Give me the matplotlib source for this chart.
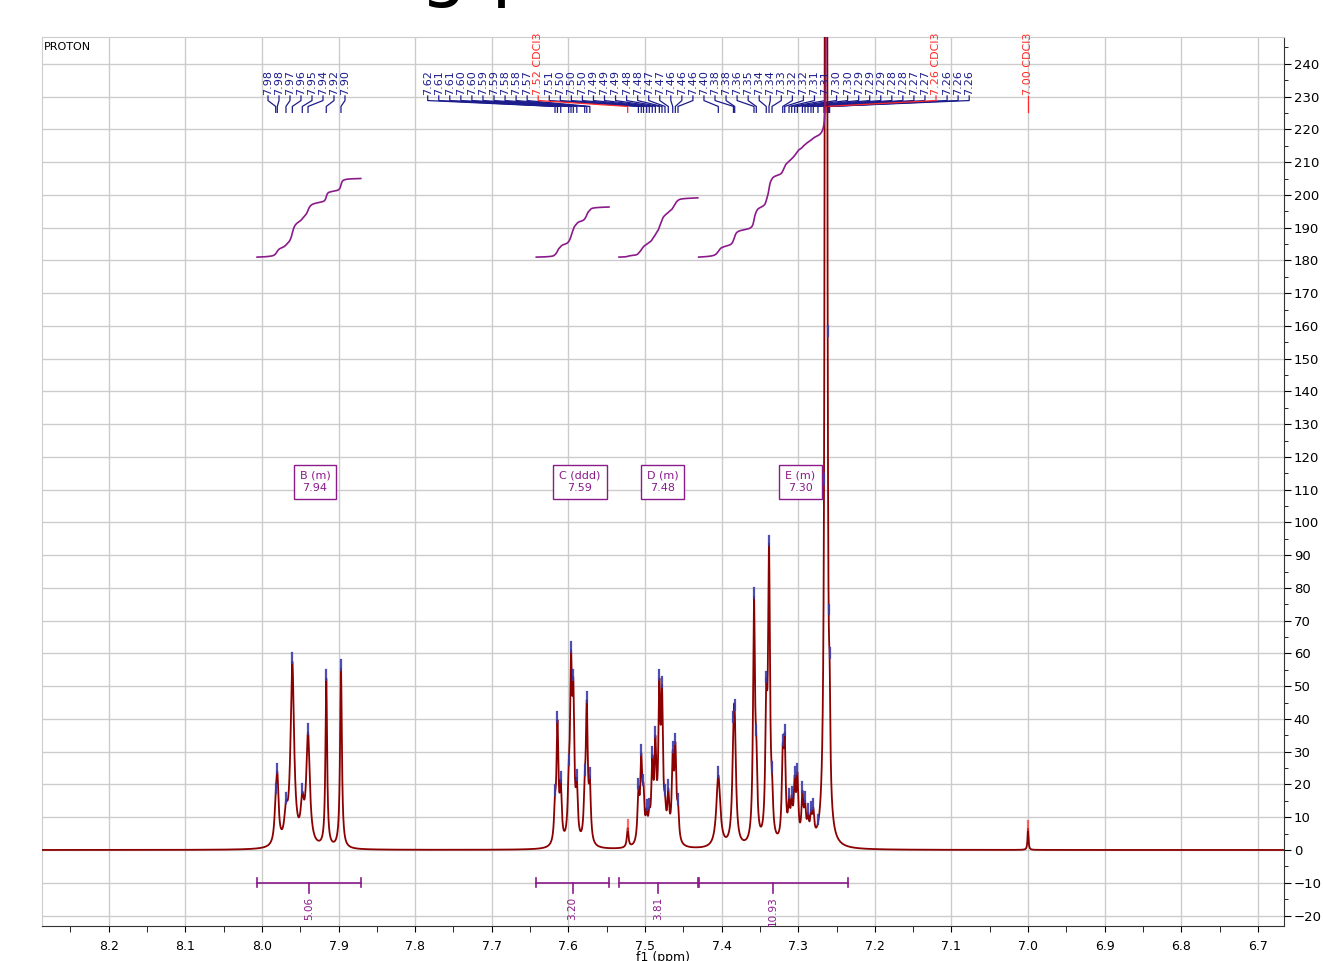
import numpy as np
import matplotlib
matplotlib.use("Agg")
import matplotlib.pyplot as plt
from matplotlib.ticker import MultipleLocator

# Picked peaks: position (ppm), curve height, line width (ppm)
peaks_b = [7.9821, 7.9800, 7.9687, 7.9604, 7.9474, 7.9399, 7.9161, 7.8969]
heights_b = [17.8, 23.9, 15.0, 57.5, 17.8, 36.0, 52.4, 55.4]
widths_b = [0.004, 0.004, 0.005, 0.0055, 0.005, 0.0055, 0.0026, 0.0028]

peaks_c = [7.6175, 7.6143, 7.6100, 7.5996, 7.5966, 7.5936, 7.5890, 7.5787, 7.5760, 7.5720]
heights_c = [17.3, 39.7, 21.4, 26.5, 61.0, 52.5, 22.0, 23.5, 45.8, 22.4]
widths_c = [0.003] * 10

peaks_d = [7.5086, 7.5049, 7.5020, 7.4978, 7.4944, 7.4905, 7.4865, 7.4813, 7.4778,
           7.4739, 7.4696, 7.4638, 7.4604, 7.4569]
heights_d = [19.3, 29.5, 20.4, 12.8, 13.2, 29.0, 35.0, 52.4, 50.4, 17.3, 18.8, 30.5, 33.0, 14.7]
widths_d = [0.003] * 14

peaks_e = [7.4043, 7.3845, 7.3829, 7.3577, 7.3547, 7.3417, 7.3381, 7.3342, 7.3202, 7.3176,
           7.3120, 7.3085, 7.3046, 7.3011, 7.2945, 7.2911, 7.2872, 7.2833, 7.2803, 7.2742,
           7.2663, 7.2615, 7.2602, 7.2590]
heights_e = [22.9, 39.7, 43.3, 77.4, 35.6, 51.9, 93.6, 24.4, 32.6, 35.6,
             16.3, 16.8, 22.9, 23.9, 18.3, 15.3, 11.7, 12.7, 13.7, 10.2,
             48.9, 101.8, 91.6, 60.0]
widths_e = [0.006, 0.004, 0.004, 0.003, 0.003, 0.003, 0.003, 0.003, 0.003, 0.003,
            0.003, 0.003, 0.003, 0.003, 0.003, 0.003, 0.003, 0.003, 0.003, 0.003,
            0.002, 0.002, 0.002, 0.002]

solvent_ppm = [7.5226, 7.2637, 7.0000]
solvent_heights = [6.7, 4000.0, 6.5]
solvent_widths = [0.0025, 0.00088, 0.0015]

# multiplets: name, shift, integration range, integral value
mult_names = ["B (m)", "C (ddd)", "D (m)", "E (m)"]
mult_shifts = ["7.94", "7.59", "7.48", "7.30"]
mult_box_ppm = [7.9308, 7.5849, 7.4772, 7.2970]
int_from = [8.0065, 7.642, 7.534, 7.430]
int_to = [7.871, 7.547, 7.431, 7.235]
int_values = ["5.06", "3.20", "3.81", "10.93"]
int_base = 181.0
# rise of each integral curve (E taken with the scale of B)
int_rise = [24.0, 15.3, 18.1, None]

NAVY = "#1c1c8c"
RED = "#ff2a2a"
PURPLE = "#8b1a8b"
DARKRED = "#8b0000"

# ---- build spectrum from peak list (Lorentzians) ----
pk = np.array(peaks_b + peaks_c + peaks_d + peaks_e + solvent_ppm)
ht = np.array(heights_b + heights_c + heights_d + heights_e + solvent_heights)
wd = np.array(widths_b + widths_c + widths_d + widths_e + solvent_widths)


def lor(x, p, w):
    return 1.0 / (1.0 + ((x - p) / (w / 2.0)) ** 2)


A = lor(pk[:, None], pk[None, :], wd[None, :])
amp = ht.copy()
Ath = A.T @ ht
AtA = A.T @ A
for _ in range(4000):
    amp *= Ath / (AtA @ amp + 1e-12)

x = np.linspace(8.2872, 6.6658, 20000)
spec = (amp[None, :] * lor(x[:, None], pk[None, :], wd[None, :])).sum(axis=1)
dx = abs(x[1] - x[0])

fig = plt.figure(figsize=(13.23, 9.61), dpi=100)
ax = fig.add_axes([42 / 1323, 1 - 926 / 961, (1284 - 42) / 1323, (926 - 37) / 961])
ax.set_xlim(8.2872, 6.6658)
ax.set_ylim(-23.2, 248.2)

ax.xaxis.set_major_locator(MultipleLocator(0.1))
ax.xaxis.set_minor_locator(MultipleLocator(0.05))
ax.yaxis.set_major_locator(MultipleLocator(10))
ax.yaxis.set_minor_locator(MultipleLocator(5))
ax.xaxis.set_major_formatter(lambda v, pos: f"{v:.1f}")
ax.yaxis.tick_right()
ax.grid(True, which="major", color="#cccccc", linewidth=1.0, zorder=0)
ax.set_axisbelow(True)
ax.tick_params(axis="x", which="both", direction="out", length=4, labelsize=9, pad=6)
ax.tick_params(axis="y", which="major", direction="out", length=5, labelsize=9.5, pad=2)
ax.tick_params(axis="y", which="minor", direction="out", length=3)
for s in ["left", "top"]:
    ax.spines[s].set_color("#cccccc")
for s in ["right", "bottom"]:
    ax.spines[s].set_color("#333333")
ax.set_xlabel("f1 (ppm)", fontsize=9, labelpad=-1)

ax.plot(x, spec, color=DARKRED, lw=1.3, zorder=3)

# ---- integral curves ----
def region_cum(a, b):
    m = (x <= a) & (x >= b)
    return x[m], np.cumsum(spec[m]) * dx

xb, cb = region_cum(int_from[0], int_to[0])
k_b = int_rise[0] / cb[-1]
for a, b, rise in zip(int_from, int_to, int_rise):
    xr, cr = region_cum(a, b)
    k = k_b if rise is None else rise / cr[-1]
    ax.plot(xr, int_base + k * cr, color=PURPLE, lw=1.2, zorder=3)

# ---- integral bars ----
for a, b, val in zip(int_from, int_to, int_values):
    mid = (a + b) / 2
    ax.plot([a, b], [-10, -10], color=PURPLE, lw=1.2)
    ax.plot([a, a], [-8.6, -11.4], color=PURPLE, lw=1.2)
    ax.plot([b, b], [-8.6, -11.4], color=PURPLE, lw=1.2)
    ax.plot([mid, mid], [-10, -13.2], color=PURPLE, lw=1.2)
    ax.text(mid, -14.2, val, rotation=90, ha="center", va="top", color=PURPLE, fontsize=7.5)

# ---- multiplet boxes ----
for name, sh, bx in zip(mult_names, mult_shifts, mult_box_ppm):
    ax.text(bx, 112.4, f"{name}\n{sh}", ha="center", va="center", color=PURPLE,
            fontsize=8, linespacing=1.3,
            bbox=dict(boxstyle="square,pad=0.55", fc="white", ec=PURPLE, lw=1.0), zorder=5)

# ---- peak markers ----
xs, ys = x[::-1], spec[::-1]
for p in peaks_b + peaks_c + peaks_d + peaks_e:
    yv = np.interp(p, xs, ys)
    ax.plot([p, p], [yv - 0.5, yv + 2.5], color="#3c3caa", lw=1.6, alpha=0.9, zorder=4)
for p in solvent_ppm:
    yv = np.interp(p, xs, ys)
    ax.plot([p, p], [yv - 0.5, yv + 2.5], color=RED, lw=1.6, alpha=0.7, zorder=4)

# ---- peak labels ----
def label_items(blue, red):
    items = [(p, f"{p:.2f}", NAVY) for p in blue] + [(p, f"{p:.2f} CDCl3", RED) for p in red]
    return sorted(items, key=lambda t: -t[0])


def draw_labels(items, start, step):
    placed = []
    for i, (p, txt, col) in enumerate(items):
        placed.append((start - i * step, p, txt, col))
    # blue first, red on top
    for xl, p, txt, col in sorted(placed, key=lambda t: t[3] == RED):
        ax.text(xl, 230.6, txt, rotation=90, ha="center", va="bottom", color=col, fontsize=8)
        ax.plot([xl, xl, p, p], [230.2, 228.8, 227.0, 225.2], color=col, lw=0.9, zorder=2)


draw_labels(label_items(peaks_b, []), 7.99217, 0.01436)
draw_labels(label_items(peaks_c + peaks_d + peaks_e, solvent_ppm[:2]), 7.78368, 0.014426)
draw_labels(label_items([], solvent_ppm[2:]), solvent_ppm[2], 0.0)

ax.text(0.0015, 0.994, "PROTON", transform=ax.transAxes, ha="left", va="top", fontsize=8)
fig.text(420 / 1323, 1 + 8 / 961, "g p", fontsize=54, ha="left", va="baseline")

fig.savefig("out.png", dpi=100)
